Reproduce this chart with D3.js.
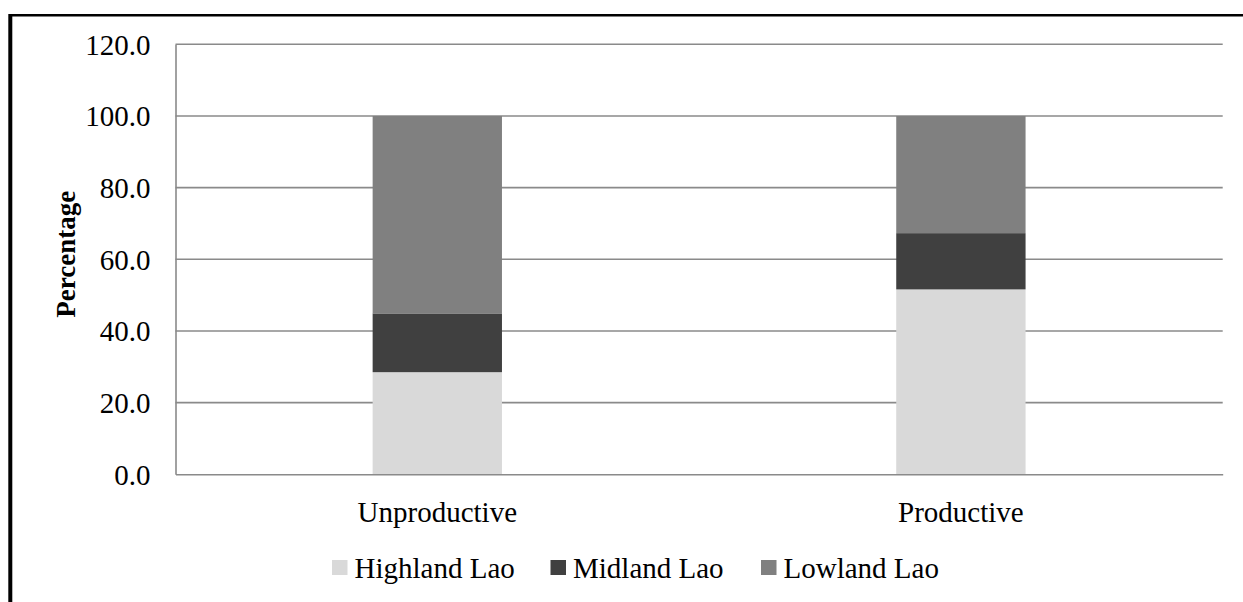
<!DOCTYPE html>
<html>
<head>
<meta charset="utf-8">
<script src="https://cdn.jsdelivr.net/npm/d3@7"></script>
<style>
  html, body { margin: 0; padding: 0; background: #fff; }
  svg { display: block; }
  text { font-family: "Liberation Serif", "Times New Roman", serif; fill: #000; }
</style>
</head>
<body>
<svg id="chart" width="1243" height="602"></svg>
<script>
// Data: share of households (%) by ethnic group, per productivity class
const categories = ["Unproductive", "Productive"];
const seriesNames = ["Highland Lao", "Midland Lao", "Lowland Lao"];
const highlandLao = [28.5, 51.6];
const midlandLao = [16.4, 15.7];
const lowlandLao = [55.1, 32.7];
const yTicks = [0, 20, 40, 60, 80, 100, 120];
const seriesColors = ["#d9d9d9", "#404040", "#808080"];

const svg = d3.select("#chart");
const W = 1243, H = 602;
const FONT = "'Liberation Serif', 'Times New Roman', serif";
const FS = "29px";

// Frame lines on the top and left edge
svg.append("line").attr("x1", 10.3).attr("x2", W).attr("y1", 15.2).attr("y2", 15.2)
  .attr("stroke", "#000").attr("stroke-width", 2.6);
svg.append("line").attr("x1", 10.3).attr("x2", 10.3).attr("y1", 14).attr("y2", H)
  .attr("stroke", "#000").attr("stroke-width", 4);

const plot = { left: 175.5, right: 1222.7, top: 44.3, bottom: 474.3 };

const x = d3.scaleBand().domain(categories).range([plot.left, plot.right]).padding(0);
const y = d3.scaleLinear().domain([0, 120]).range([plot.bottom, plot.top]);
const barW = x.bandwidth() * 0.247;

// Gridlines
svg.append("g").selectAll("line").data(yTicks.filter(d => d > 0)).join("line")
  .attr("x1", plot.left).attr("x2", plot.right)
  .attr("y1", d => y(d)).attr("y2", d => y(d))
  .attr("stroke", "#8a8a8a").attr("stroke-width", 1.6);

// Stacked bars
const rows = categories.map((c, i) => ({
  category: c,
  "Highland Lao": highlandLao[i],
  "Midland Lao": midlandLao[i],
  "Lowland Lao": lowlandLao[i]
}));
const stacked = d3.stack().keys(seriesNames)(rows);

svg.append("g").selectAll("g").data(stacked).join("g")
  .attr("fill", (d, i) => seriesColors[i])
  .selectAll("rect").data(d => d).join("rect")
  .attr("x", d => x(d.data.category) + x.bandwidth() / 2 - barW / 2)
  .attr("width", barW)
  .attr("y", d => y(d[1]))
  .attr("height", d => y(d[0]) - y(d[1]));

// Y axis
const yAxis = svg.append("g").attr("transform", `translate(${plot.left},0)`)
  .call(d3.axisLeft(y).tickValues(yTicks).tickSize(0).tickPadding(25).tickFormat(d3.format(".1f")));
yAxis.select(".domain").attr("stroke", "#8a8a8a").attr("stroke-width", 1.6);
yAxis.selectAll("text").style("font-family", FONT)
  .style("font-size", FS).attr("dy", "0.34em");

// X axis
const xAxis = svg.append("g").attr("transform", `translate(0,${plot.bottom})`)
  .call(d3.axisBottom(x).tickSize(0).tickPadding(0));
xAxis.select(".domain").attr("stroke", "#8a8a8a").attr("stroke-width", 1.6);
xAxis.selectAll("text").style("font-family", FONT)
  .style("font-size", FS).attr("dy", null).attr("y", 47.5);

// Y axis title
svg.append("text")
  .attr("transform", `translate(75,${(plot.top + plot.bottom) / 2 - 5}) rotate(-90)`)
  .attr("text-anchor", "middle")
  .style("font-family", FONT)
  .style("font-size", "27px").style("font-weight", "bold")
  .text("Percentage");

// Legend
const legendX = [332, 550.5, 761];
const legend = svg.append("g").selectAll("g").data(seriesNames).join("g")
  .attr("transform", (d, i) => `translate(${legendX[i]},0)`);
legend.append("rect").attr("x", 0).attr("y", 560).attr("width", 15.5).attr("height", 15)
  .attr("fill", (d, i) => seriesColors[i]);
legend.append("text").attr("x", 22.5).attr("y", 578)
  .style("font-family", FONT)
  .style("font-size", FS).text(d => d);
</script>
</body>
</html>
